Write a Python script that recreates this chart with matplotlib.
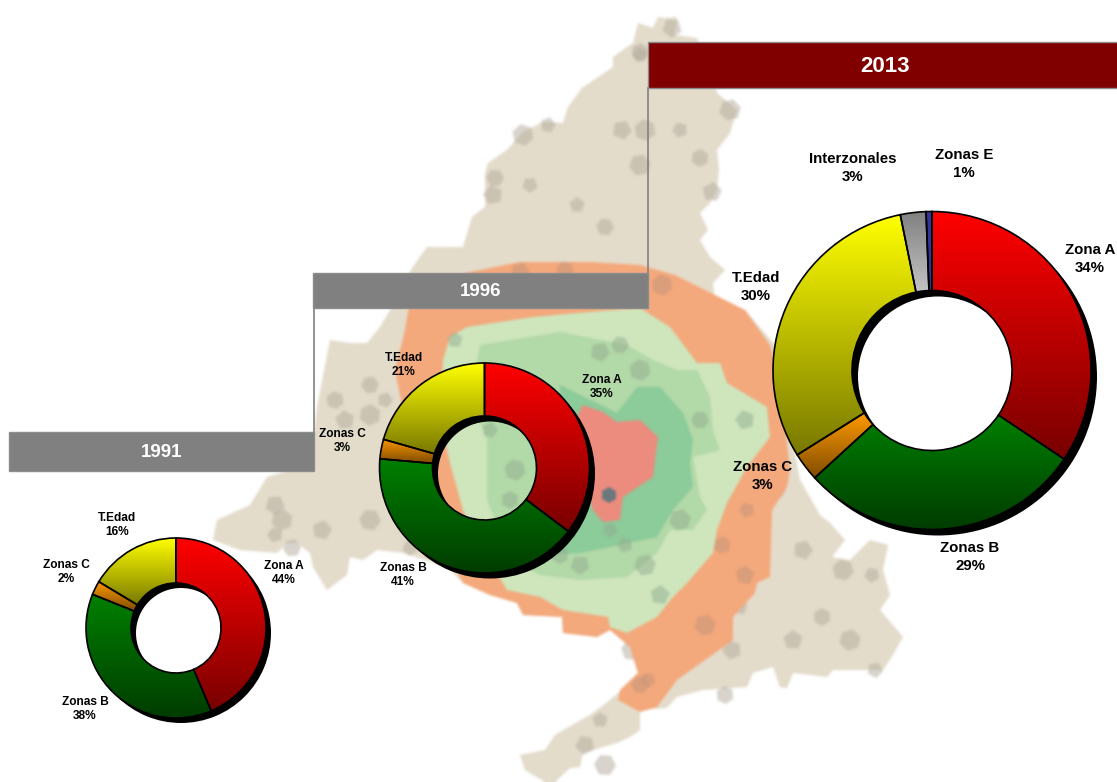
import numpy as np
import matplotlib
matplotlib.use('Agg')
import matplotlib.pyplot as plt
from matplotlib.patches import Polygon, Rectangle, RegularPolygon, Wedge
from matplotlib.colors import LinearSegmentedColormap

W, H = 1117, 782

zones = ['Zona A', 'Zonas B', 'Zonas C', 'T.Edad', 'Interzonales', 'Zonas E']
years = ['1991', '1996', '2013']
values_1991 = [43.6, 37.5, 2.5, 16.4]
values_1996 = [35.3, 41.1, 3.0, 20.6]
values_2013 = [34.4, 28.8, 2.9, 30.7, 2.6, 0.6]
labels_1991 = [44, 38, 2, 16]
labels_1996 = [35, 41, 3, 21]
labels_2013 = [34, 29, 3, 30, 3, 1]

top_colors = ['#ff0000', '#008000', '#ff9900', '#ffff00', '#808080', '#333399']
bottom_colors = ['#780000', '#003c00', '#7f4c00', '#787800', '#c4c4c4', '#333399']

# map of the region (pixels, y down)
map_outline = [(665, 18), (677, 17), (675, 35), (697, 38), (716, 88), (717, 93), (737, 110), (730, 133), (717, 150),
               (719, 170), (717, 190), (710, 203), (700, 213), (708, 230), (700, 240), (710, 257), (725, 270),
               (713, 283), (715, 300), (745, 310), (775, 345), (800, 480), (820, 515), (830, 523), (845, 540),
               (832, 557), (850, 560), (870, 540), (888, 545), (883, 570), (890, 595), (880, 610), (903, 637),
               (893, 655), (883, 670), (833, 670), (827, 677), (793, 673), (787, 688), (780, 687), (773, 667),
               (753, 673), (747, 687), (703, 690), (677, 697), (667, 708), (640, 710), (640, 730), (630, 737),
               (617, 743), (603, 747), (583, 753), (580, 767), (570, 768), (555, 782), (545, 782), (525, 770),
               (520, 755), (545, 750), (555, 735), (590, 715), (610, 700), (618, 693), (638, 673), (630, 647),
               (610, 630), (597, 637), (563, 633), (562, 617), (523, 615), (517, 603), (490, 595), (463, 583),
               (447, 567), (403, 553), (377, 550), (363, 560), (350, 557), (347, 575), (327, 590), (313, 567),
               (310, 553), (297, 543), (287, 543), (277, 553), (240, 550), (213, 540), (217, 520), (250, 505),
               (267, 477), (290, 470), (313, 440), (317, 407), (330, 340), (350, 343), (367, 343), (380, 327),
               (390, 310), (412, 268), (427, 247), (463, 247), (472, 217), (485, 207), (485, 173), (488, 163),
               (507, 150), (523, 132), (543, 122), (563, 123), (568, 107), (582, 88), (613, 67), (613, 57),
               (633, 43), (638, 23), (653, 28), (658, 17)]
orange_area = [(410, 300), (430, 285), (470, 272), (520, 262), (590, 262), (640, 265), (675, 275), (725, 300),
               (745, 310), (770, 345), (780, 380), (790, 470), (787, 487), (772, 510), (770, 577), (757, 583),
               (755, 593), (733, 617), (733, 640), (677, 680), (657, 707), (640, 712), (618, 700), (620, 690),
               (638, 673), (630, 647), (610, 630), (597, 637), (563, 633), (562, 617), (523, 615), (517, 603),
               (490, 595), (463, 583), (440, 540), (430, 480), (405, 420), (395, 370), (405, 330)]
light_green = [(443, 360), (450, 337), (467, 327), (533, 317), (577, 313), (640, 308), (670, 327), (697, 363),
               (720, 363), (727, 383), (767, 407), (770, 437), (747, 467), (727, 503), (717, 530), (713, 553),
               (687, 583), (673, 597), (657, 617), (627, 633), (610, 627), (608, 617), (563, 610), (540, 597),
               (507, 590), (470, 530), (463, 510), (450, 463), (440, 420)]
mid_green = [(480, 345), (560, 332), (627, 345), (653, 360), (677, 370), (697, 370), (710, 397), (713, 430),
             (720, 450), (693, 457), (700, 497), (707, 510), (693, 530), (670, 530), (657, 553), (627, 577),
             (580, 580), (540, 575), (510, 560), (487, 500), (487, 440), (470, 400)]
dark_green = [(560, 385), (617, 413), (637, 387), (660, 387), (683, 413), (693, 440), (690, 463), (693, 487),
              (673, 510), (657, 537), (610, 547), (580, 553), (540, 555), (555, 480)]
red_area = [(583, 405), (603, 412), (617, 422), (640, 420), (658, 437), (653, 477), (623, 497), (620, 520),
            (603, 522), (593, 510), (580, 470), (570, 430)]

beige_cells = [(577, 205), (605, 227), (622, 130), (645, 130), (680, 130), (700, 158), (712, 192), (640, 165),
               (530, 185), (495, 178), (493, 195), (523, 135), (548, 125), (640, 52), (672, 28),
               (730, 110), (640, 55), (777, 490), (803, 550), (843, 570), (872, 575), (822, 617), (793, 640),
               (850, 640), (875, 670), (648, 675), (732, 650), (632, 650), (740, 607), (725, 695), (275, 505),
               (282, 520), (275, 535), (292, 548), (322, 530), (370, 520), (410, 548), (335, 400), (345, 420),
               (370, 415), (385, 400), (370, 385), (585, 745), (605, 765), (600, 720)]
green_cells = [(455, 340), (620, 345), (600, 352), (640, 370), (625, 545), (560, 555), (660, 595), (645, 565),
               (610, 530), (700, 420), (745, 420), (515, 470), (490, 430), (510, 500), (580, 565), (680, 520)]
orange_cells = [(430, 300), (565, 270), (520, 272), (662, 285), (747, 510), (722, 545), (745, 575), (705, 625),
                (648, 680), (640, 685)]

label_pos_1991 = [(284, 573), (85, 709), (66, 572), (117, 525)]
label_pos_1996 = [(602, 387), (403, 575), (342, 441), (404, 365)]
label_pos_2013 = [(1090, 259), (970, 557), (763, 476), (756, 287), (853, 168), (964, 164)]


def shape(ax, points, color, z):
    pts = [(x, H - y) for x, y in points]
    ax.add_patch(Polygon(pts, closed=True, facecolor=color, edgecolor='none', zorder=z))


def cells(ax, centers, color, z):
    for i, (x, y) in enumerate(centers):
        ax.add_patch(RegularPolygon((x, H - y), 5 + i % 2, radius=8 + i % 4, orientation=0.4 * i, facecolor=color,
                                    edgecolor='none', alpha=0.5, zorder=z))


def map_image():
    # the map is a soft, low resolution picture in the original, so draw it apart and blur it
    f = plt.figure(figsize=(W / 100, H / 100), dpi=100)
    a = f.add_axes([0, 0, 1, 1])
    shape(a, map_outline, '#e4dccb', 1)
    cells(a, beige_cells, '#b3ab9d', 1.5)
    shape(a, orange_area, '#f4a97c', 2)
    cells(a, orange_cells, '#c4957a', 2.2)
    shape(a, light_green, '#cfe6bd', 3)
    shape(a, mid_green, '#b3d9a8', 3.2)
    shape(a, dark_green, '#8ccb9a', 3.4)
    cells(a, green_cells, '#93ad90', 3.5)
    shape(a, red_area, '#ec8c7e', 3.6)
    a.add_patch(RegularPolygon((609, H - 495), 6, radius=8, facecolor='#55757c', edgecolor='none', alpha=0.85, zorder=3.7))
    a.set_xlim(0, W)
    a.set_ylim(0, H)
    a.axis('off')
    f.canvas.draw()
    img = np.asarray(f.canvas.buffer_rgba())[:, :, :3] / 255.0
    plt.close(f)
    # box blur, padded with the border pixels so the frame stays white
    for _ in range(2):
        for axis in (0, 1):
            pad = [(1, 1) if k == axis else (0, 0) for k in range(3)]
            p = np.pad(img, pad, mode='edge')
            img = (np.take(p, range(0, p.shape[axis] - 2), axis=axis)
                   + np.take(p, range(1, p.shape[axis] - 1), axis=axis)
                   + np.take(p, range(2, p.shape[axis]), axis=axis)) / 3
    return img


def bar(x0, y0, x1, y1, color, text, size):
    ax.add_patch(Rectangle((x0, H - y1), x1 - x0, y1 - y0, facecolor=color, edgecolor='#8c8c8c', linewidth=1, zorder=6))
    ax.text((x0 + x1) / 2, H - (y0 + y1) / 2 - 1, text, color='white', fontsize=size, fontweight='bold', ha='center',
            va='center', family='Liberation Sans', zorder=7)


def donut(values, labels, cx, cy, R, r, shift, positions, size):
    cy = H - cy
    ax.add_patch(Wedge((cx + shift, cy - shift), R, 0, 360, width=R - r, facecolor='black', edgecolor='none', zorder=8))
    wedges, _ = ax.pie(values, startangle=90, counterclock=False, radius=R, center=(cx, cy),
                       wedgeprops=dict(width=R - r, edgecolor='black', linewidth=1.2))
    for i, w in enumerate(wedges):
        box = w.get_path().get_extents()
        cmap = LinearSegmentedColormap.from_list('g', [top_colors[i], bottom_colors[i]])
        im = ax.imshow(np.linspace(0, 1, 256).reshape(-1, 1), cmap=cmap, aspect='auto', zorder=9,
                       extent=(box.x0, box.x1, box.y0, box.y1), origin='upper')
        im.set_clip_path(w)
        w.set_facecolor('none')
        w.set_zorder(10)
    for i, (x, y) in enumerate(positions):
        ax.text(x, H - y, f'{zones[i]}\n{labels[i]}%', fontsize=size, fontweight='bold', ha='center', va='center',
                linespacing=1.3, family=['Liberation Sans Narrow', 'Liberation Sans'], zorder=11)


background = map_image()

fig = plt.figure(figsize=(W / 100, H / 100), dpi=100)
ax = fig.add_axes([0, 0, 1, 1])
ax.imshow(background, extent=(0, W, 0, H), aspect='auto', zorder=0)

ax.plot([313.5, 313.5], [H - 308, H - 432], color='#808080', lw=1.2, zorder=5)
ax.plot([648, 648], [H - 88, H - 273], color='#808080', lw=1.2, zorder=5)
bar(9, 432, 314, 471, '#808080', years[0], 13.5)
bar(313, 273, 648, 308, '#808080', years[1], 13.5)
bar(648, 42, W + 5, 88, '#800000', years[2], 16)

donut(values_1991, labels_1991, 176, 628, 90, 45, 5, label_pos_1991, 8.6)
donut(values_1996, labels_1996, 484.5, 468, 105, 52, 5.5, label_pos_1996, 8.6)
donut(values_2013, labels_2013, 932, 370.5, 159, 80, 6, label_pos_2013, 10.8)

ax.set_xlim(0, W)
ax.set_ylim(0, H)
ax.set_aspect('auto')
ax.axis('off')

fig.savefig('out.png', dpi=100, facecolor='white')
